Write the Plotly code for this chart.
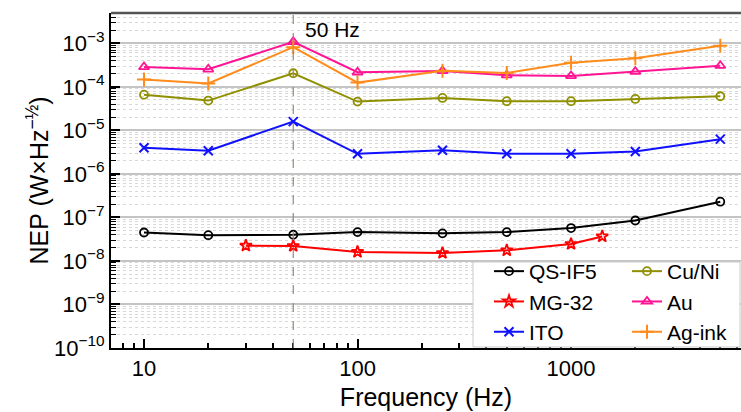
import plotly.graph_objects as go

# ---------------- data ----------------
freq = [10, 20, 50, 100, 250, 500, 1000, 2000, 5000]
qs_if5 = [4.5e-8, 3.9e-8, 4.0e-8, 4.6e-8, 4.3e-8, 4.6e-8, 5.7e-8, 8.5e-8, 2.3e-7]
mg_freq = [30, 50, 100, 250, 500, 1000, 1400]
mg32 = [2.24e-8, 2.2e-8, 1.61e-8, 1.52e-8, 1.75e-8, 2.45e-8, 3.66e-8]
ito = [4.0e-6, 3.4e-6, 1.59e-5, 2.89e-6, 3.5e-6, 2.89e-6, 2.89e-6, 3.27e-6, 6.28e-6]
cuni = [6.6e-5, 4.83e-5, 2.05e-4, 4.58e-5, 5.56e-5, 4.67e-5, 4.67e-5, 5.27e-5, 6.08e-5]
au = [2.86e-4, 2.53e-4, 1.08e-3, 2.16e-4, 2.32e-4, 1.85e-4, 1.78e-4, 2.23e-4, 3.06e-4]
ag_ink = [1.47e-4, 1.19e-4, 8.15e-4, 1.25e-4, 2.35e-4, 2.08e-4, 3.59e-4, 4.53e-4, 8.8e-4]

x_tickvals = [10, 100, 1000]
x_ticktext = ["10", "100", "1000"]
y_tickvals = [1e-10, 1e-9, 1e-8, 1e-7, 1e-6, 1e-5, 1e-4, 1e-3]
y_ticktext = ["10<sup>−10</sup>", "10<sup>−9</sup>", "10<sup>−8</sup>", "10<sup>−7</sup>",
              "10<sup>−6</sup>", "10<sup>−5</sup>", "10<sup>−4</sup>", "10<sup>−3</sup>"]
marker_freq = 50

FONT = "Liberation Sans, Arial, sans-serif"

fig = go.Figure()

def add(name, x, y, color, symbol, size, legend):
    fig.add_trace(go.Scatter(
        x=x, y=y, name=name, mode="lines+markers",
        line=dict(color=color, width=2),
        marker=dict(symbol=symbol, size=size, color=color,
                    line=dict(color=color, width=2 if "thin" in symbol else 1.8)),
        legend=legend,
    ))

add("QS-IF5", freq, qs_if5, "#000000", "circle-open", 8, "legend")
add("MG-32", mg_freq, mg32, "#ff0000", "star-open", 9, "legend")
add("ITO", freq, ito, "#1010ff", "x-thin-open", 9, "legend")
add("Cu/Ni", freq, cuni, "#8f8f00", "circle-open", 8, "legend2")
add("Au", freq, au, "#ff1493", "triangle-up-open", 9, "legend2")
add("Ag-ink", freq, ag_ink, "#ff8c1a", "cross-thin-open", 10, "legend2")

L, R, T, B = 111, 0, 13, 64
W, H = 741, 412
pw, ph = W - L - R, H - T - B

def px2x(px):
    return (px - L) / pw

def px2y(py):
    return (H - B - py) / ph

shapes = [
    # 50 Hz dashed line
    dict(type="line", xref="x", yref="paper", x0=marker_freq, x1=marker_freq, y0=0, y1=1,
         line=dict(color="#9a8878", width=1.2, dash="dash"), layer="above"),
    # top frame
    dict(type="line", xref="paper", yref="paper", x0=0, x1=1, y0=1, y1=1,
         line=dict(color="#555555", width=2.5), layer="above"),
    # legend box
    dict(type="rect", xref="paper", yref="paper",
         x0=px2x(473), x1=px2x(740), y0=px2y(347), y1=px2y(262),
         fillcolor="white", line=dict(color="#cccccc", width=1), layer="above"),
]

fig.update_layout(
    width=W, height=H,
    margin=dict(l=L, r=R, t=T, b=B),
    paper_bgcolor="white", plot_bgcolor="white",
    font=dict(family=FONT, size=22, color="black"),
    shapes=shapes,
    legend=dict(x=px2x(489), y=px2y(251), xanchor="left", yanchor="top",
                bgcolor="rgba(0,0,0,0)", borderwidth=0, font=dict(size=21),
                tracegroupgap=0),
    legend2=dict(x=px2x(627), y=px2y(251), xanchor="left", yanchor="top",
                 bgcolor="rgba(0,0,0,0)", borderwidth=0, font=dict(size=21),
                 tracegroupgap=0),
    annotations=[
        dict(text="50 Hz", xref="paper", yref="paper", x=px2x(303), y=px2y(29),
             xanchor="left", yanchor="middle", showarrow=False, font=dict(size=21)),
        dict(text="NEP (W×Hz<sup>−½</sup>)", xref="paper", yref="paper",
             x=px2x(37), y=0.5, xanchor="center", yanchor="middle", textangle=-90,
             showarrow=False, font=dict(size=25)),
    ],
)

fig.update_xaxes(
    type="log", range=[0.8454, 3.796],
    tickmode="array", tickvals=x_tickvals, ticktext=x_ticktext,
    ticks="inside", ticklen=9, tickwidth=1.5, tickcolor="black",
    showline=True, linecolor="black", linewidth=2,
    showgrid=False, zeroline=False,
    tickfont=dict(size=22),
    minor=dict(dtick="D1", ticks="inside", ticklen=5, tickwidth=1.5, tickcolor="black",
               showgrid=False),
    title=dict(text="Frequency (Hz)", font=dict(size=25), standoff=8),
)

fig.update_yaxes(
    type="log", range=[-10, -2.304],
    tickmode="array", tickvals=y_tickvals, ticktext=y_ticktext,
    ticks="inside", ticklen=9, tickwidth=1.5, tickcolor="black",
    showline=True, linecolor="black", linewidth=2,
    showgrid=True, gridcolor="#c4c4c4", gridwidth=1.5, zeroline=False,
    tickfont=dict(size=22),
    minor=dict(dtick="D1", ticks="inside", ticklen=5, tickwidth=1.2, tickcolor="black",
               showgrid=True, gridcolor="#d8d8d8", gridwidth=1, griddash="dot"),
)

fig.write_html("out.html")
